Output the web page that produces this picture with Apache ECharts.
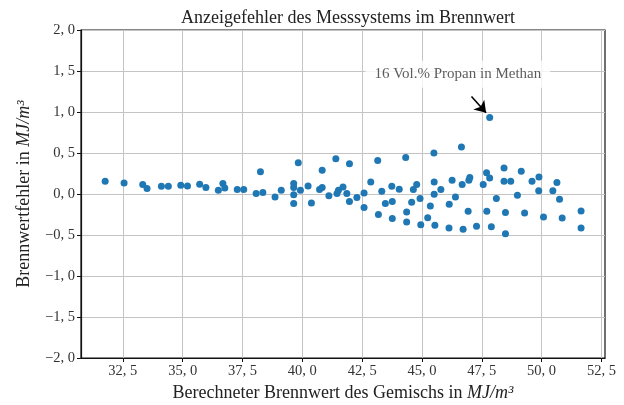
<!DOCTYPE html>
<html><head><meta charset="utf-8">
<script src="https://cdn.jsdelivr.net/npm/echarts@6/dist/echarts.min.js"></script>
<style>html,body{margin:0;padding:0;background:#fff}#c{width:624px;height:405px}</style>
</head><body><div id="c"></div>
<script>
var titleText = 'Anzeigefehler des Messsystems im Brennwert';
var xTicks = [32.5, 35.0, 37.5, 40.0, 42.5, 45.0, 47.5, 50.0, 52.5];
var yTicks = [-2.0, -1.5, -1.0, -0.5, 0.0, 0.5, 1.0, 1.5, 2.0];
var heatValue = [31.76,32.55,33.33,33.51,34.11,34.40,34.92,35.20,35.71,35.97,36.49,36.68,36.76,37.28,37.55,38.07,38.25,38.35,38.86,39.12,39.64,39.64,39.64,39.64,39.83,39.92,40.24,40.38,40.72,40.83,40.83,41.11,41.40,41.45,41.51,41.70,41.86,41.97,41.97,
42.28,42.58,42.58,42.86,43.15,43.18,43.32,43.47,43.74,43.76,43.76,44.05,44.32,44.36,44.36,44.57,44.64,44.78,44.92,44.95,45.24,45.35,45.50,45.51,45.51,45.54,45.79,46.13,46.14,46.26,46.40,46.65,46.68,46.72,46.93,46.96,47.00,47.28,47.56,47.70,47.71,47.83,47.90,48.11,48.43,48.43,48.49,48.49,48.71,48.99,49.15,49.29,49.60,49.89,49.88,50.08,50.47,50.64,50.75,50.86,51.65,51.65,47.83];
var heatError = [0.155,0.134,0.115,0.066,0.094,0.094,0.106,0.098,0.118,0.078,0.045,0.127,0.073,0.054,0.054,0.005,0.27,0.017,-0.037,0.045,0.127,0.078,-0.008,-0.117,0.38,0.045,0.098,-0.11,0.054,0.29,0.078,-0.02,0.43,0.005,0.045,0.085,0.005,0.37,-0.09,
-0.044,0.012,-0.166,0.147,0.41,-0.25,0.033,-0.117,0.094,-0.09,-0.30,0.057,0.444,-0.22,-0.34,-0.10,0.054,0.115,-0.056,-0.374,-0.29,-0.146,0.50,0.147,-0.004,-0.38,0.054,-0.415,-0.126,0.167,-0.037,0.574,0.115,-0.43,-0.21,0.167,0.20,-0.394,0.115,0.26,-0.21,0.195,-0.40,-0.056,0.317,0.155,-0.227,-0.484,0.155,-0.016,0.277,-0.232,0.155,0.208,0.041,-0.28,0.041,0.139,-0.065,-0.293,-0.208,-0.415,0.933];
var annotationText = '16 Vol.% Propan in Methan';
var annotationPos = [46.5, 1.46];
var arrowFrom = [47.07, 1.19];
var arrowTo = [47.68, 0.99];

function fmt(v, d) {
  var s = Math.abs(v).toFixed(d).replace('.', ', ');
  return (v < 0 ? '\u2212' : '') + s;
}
var points = heatValue.map(function (x, i) { return [x, heatError[i]]; });
var serif = 'Liberation Serif';
var chart = echarts.init(document.getElementById('c'));
chart.setOption({
  animation: false,
  backgroundColor: '#fff',
  title: { text: titleText, left: 343, top: 4, textAlign: 'center',
    textStyle: { fontFamily: serif, fontSize: 18, fontWeight: 'normal', color: '#222' } },
  grid: { left: 81, right: 19, top: 30, bottom: 47, containLabel: false, outerBoundsMode: 'none',
    show: true, borderColor: '#111', borderWidth: 1.2, backgroundColor: 'transparent' },
  xAxis: {
    type: 'value', min: 30.75, max: 52.65,
    name: '{a|Berechneter Brennwert des Gemischs in }{i|MJ/m\u00b3}',
    nameLocation: 'middle', nameGap: 25,
    nameTextStyle: { rich: {
      a: { fontFamily: serif, fontSize: 18, color: '#222' },
      i: { fontFamily: serif, fontSize: 18, fontStyle: 'italic', color: '#222' } } },
    axisLine: { show: true, onZero: false, lineStyle: { color: '#111', width: 1.2 } },
    axisTick: { show: true, customValues: xTicks, length: 4, lineStyle: { color: '#111' } },
    axisLabel: { customValues: xTicks, formatter: function (v) { return fmt(v, 1); }, fontFamily: serif, fontSize: 14.5, color: '#333', margin: 6 },
    splitLine: { show: true, lineStyle: { color: '#c4c4c4', width: 1 } }
  },
  yAxis: {
    type: 'value', min: -2, max: 2, interval: 0.5,
    name: '{a|Brennwertfehler in }{i|MJ/m\u00b3}',
    nameLocation: 'middle', nameGap: 48,
    nameTextStyle: { rich: {
      a: { fontFamily: serif, fontSize: 18, color: '#222' },
      i: { fontFamily: serif, fontSize: 18, fontStyle: 'italic', color: '#222' } } },
    axisLine: { show: true, onZero: false, lineStyle: { color: '#111', width: 1.2 } },
    axisTick: { show: true, length: 4, lineStyle: { color: '#111' } },
    axisLabel: { formatter: function (v) { return fmt(v, 1); }, fontFamily: serif, fontSize: 14.5, color: '#333', margin: 6 },
    splitLine: { show: true, lineStyle: { color: '#c4c4c4', width: 1 } }
  },
  series: [
    { type: 'scatter', data: points, symbolSize: 7, itemStyle: { color: '#1f77b4', opacity: 1 }, z: 3,
      markLine: { silent: true, symbol: ['none', 'arrow'], symbolSize: 11, label: { show: false }, z: 6,
        lineStyle: { color: '#000', width: 1.6, type: 'solid' },
        data: [[{ coord: arrowFrom, symbol: 'none' }, { coord: arrowTo, symbol: 'arrow', symbolSize: 11 }]] } },
    { type: 'scatter', data: [annotationPos], symbolSize: 0, z: 5,
      label: { show: true, position: 'inside', formatter: annotationText, fontFamily: serif, fontSize: 15, color: '#333',
        backgroundColor: '#fff', padding: [6, 9], borderRadius: 4 } }
  ]
});
</script></body></html>
